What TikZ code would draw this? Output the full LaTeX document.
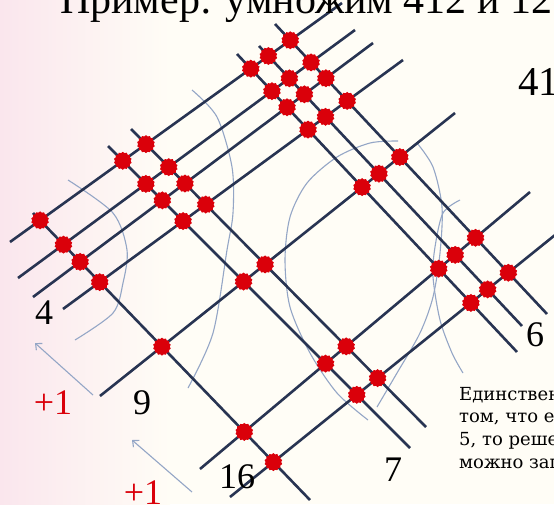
\documentclass[tikz,border=0pt]{standalone}
\usepackage{fontspec}
\setmainfont{Liberation Serif}
\newfontfamily\notefont{DejaVu Serif}
\usetikzlibrary{shapes.geometric,arrows.meta}
\definecolor{navy}{RGB}{40,52,82}
\definecolor{dotred}{RGB}{218,0,10}
\definecolor{arcblue}{RGB}{148,166,198}
\definecolor{paper}{RGB}{255,253,246}
\definecolor{blush}{RGB}{250,230,237}
\begin{document}
\begin{tikzpicture}[x=1pt,y=-1pt,
  grid/.style={navy,line width=2.6pt},
  dot/.style={star,star points=14,star point ratio=1.15,fill=dotred,inner sep=0pt,minimum size=18pt},
  arc/.style={arcblue,line width=1.1pt},
  carry/.style={arcblue,line width=1.1pt,-{Straight Barb[length=5pt,width=9pt]}},
  num/.style={font=\fontsize{36}{36}\selectfont,inner sep=0pt},
  note/.style={anchor=base west,inner sep=0pt,font=\notefont\fontsize{18}{18}\selectfont}]
  \useasboundingbox (0,0) rectangle (554,504);
  \clip (0,0) rectangle (554,504);
  \fill[paper] (0,0) rectangle (554,504);
  \shade[left color=blush,right color=paper] (0,0) rectangle (170,504);
  % 412: rising lines
  \coordinate (rs1) at (10,242);  \coordinate (re1) at (342,3);
  \coordinate (rs2) at (18,278);  \coordinate (re2) at (355,30);
  \coordinate (rs3) at (33,297);  \coordinate (re3) at (373,43);
  \coordinate (rs4) at (63,309);  \coordinate (re4) at (403,60);
  \coordinate (rs5) at (100,396); \coordinate (re5) at (455,113);
  \coordinate (rs6) at (200,469); \coordinate (re6) at (530,192);
  \coordinate (rs7) at (230,497); \coordinate (re7) at (560,231);
  % 123: falling lines
  \coordinate (fs1) at (33,213);  \coordinate (fe1) at (310,500);
  \coordinate (fs2) at (108,146); \coordinate (fe2) at (410,448);
  \coordinate (fs3) at (131,129); \coordinate (fe3) at (426,427);
  \coordinate (fs4) at (237,54);  \coordinate (fe4) at (517,352);
  \coordinate (fs5) at (259,46);  \coordinate (fe5) at (522,326);
  \coordinate (fs6) at (275,24);  \coordinate (fe6) at (547,314);
  % arcs
  \draw[arc] plot[smooth] coordinates {(68,180) (113,213) (127,250) (123,283) (113,313) (75,340)};
  \draw[arc] plot[smooth] coordinates {(192,90) (217,117) (232,167) (233,213) (227,250) (213,333) (188,388)};
  \draw[arc] plot[smooth] coordinates {(398,141) (370,143) (337,157) (307,183) (290,217) (285,260) (290,307) (310,353) (337,393) (368,420)};
  \draw[arc] plot[smooth] coordinates {(417,143) (433,167) (442,207) (440,253) (433,297) (420,333) (397,373) (377,407)};
  \draw[arc] plot[smooth] coordinates {(460,200) (443,213) (435,247) (433,277) (440,320) (452,353) (463,373)};
  \foreach \i in {1,...,7} \draw[grid] (rs\i) -- (re\i);
  \foreach \j in {1,...,6} \draw[grid] (fs\j) -- (fe\j);
  \foreach \i in {1,...,7}
    \foreach \j in {1,...,6}{
      \pgfcoordinate{cross}{\pgfpointintersectionoflines
        {\pgfpointanchor{rs\i}{center}}{\pgfpointanchor{re\i}{center}}
        {\pgfpointanchor{fs\j}{center}}{\pgfpointanchor{fe\j}{center}}}
      \node[dot] at (cross) {};
    }
  % sums
  \node[num] (s4) at (44,313) {4};
  \node[num] (s9) at (142,403) {9};
  \node[num] (s16) at (237,477) {16};
  \node[num] (s7) at (393,470) {7};
  \node[num] (s6) at (535,335) {6};
  \node[num,dotred] (c1) at (53,403) {+1};
  \node[num,dotred] (c2) at (143,493) {+1};
  \coordinate (t1) at (93,395);  \coordinate (h1) at (35,343);
  \coordinate (t2) at (192,492); \coordinate (h2) at (132,440);
  \draw[carry] (t1) -- (h1);
  \draw[carry] (t2) -- (h2);
  % texts
  \node[anchor=base west,inner sep=0pt,font=\fontsize{42}{42}\selectfont] (title) at (60,13) {Пример: умножим 412 и 123};
  \node[anchor=base west,inner sep=0pt,font=\fontsize{41}{41}\selectfont] (res) at (518,95) {41};
  \node[note] (n1) at (459,400) {Единствен};
  \node[note] (n2) at (459,422.7) {том, что ес};
  \node[note] (n3) at (459,445.3) {5, то реше};
  \node[note] (n4) at (459,468) {можно зап};
\end{tikzpicture}
\end{document}
